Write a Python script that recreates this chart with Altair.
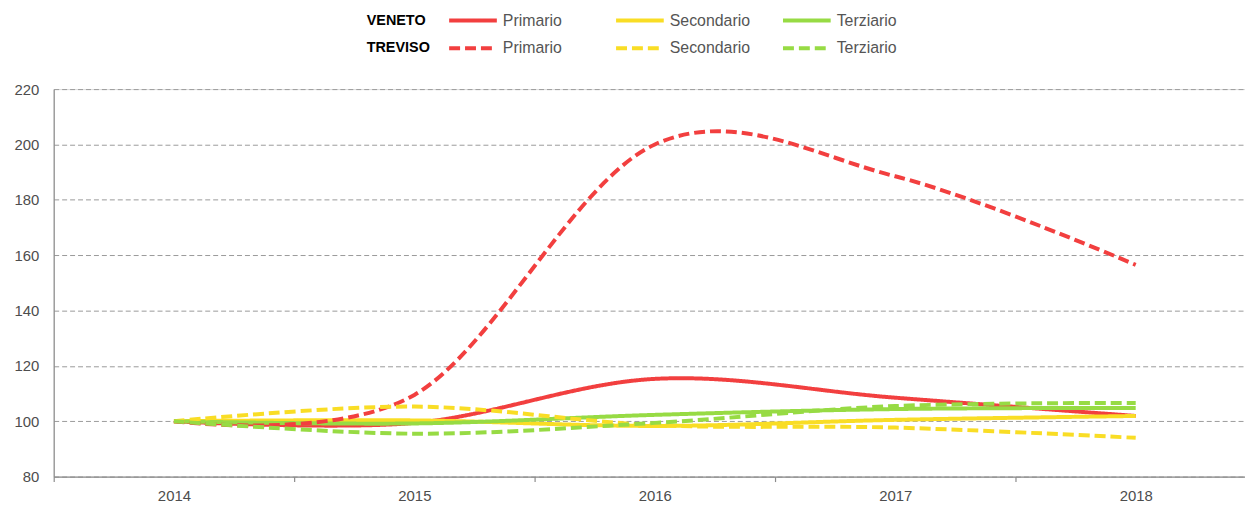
import altair as alt
import pandas as pd

# ---------------- data ----------------
years = [2014, 2015, 2016, 2017, 2018]
sectors = ["Primario", "Secondario", "Terziario"]
regions = ["VENETO", "TREVISO"]

veneto_primario = [100, 99.4, 115.3, 108.5, 101.9]
veneto_secondario = [100, 100.3, 98.3, 100.5, 101.9]
veneto_terziario = [100, 99.2, 102.3, 104.4, 104.8]
treviso_primario = [100, 109.5, 200.0, 188.5, 156.5]
treviso_secondario = [100, 105.3, 98.6, 97.7, 94.0]
treviso_terziario = [100, 95.5, 99.4, 105.5, 106.6]

y_ticks = [80, 100, 120, 140, 160, 180, 200, 220]

series = {
    ("VENETO", "Primario"): veneto_primario,
    ("VENETO", "Secondario"): veneto_secondario,
    ("VENETO", "Terziario"): veneto_terziario,
    ("TREVISO", "Primario"): treviso_primario,
    ("TREVISO", "Secondario"): treviso_secondario,
    ("TREVISO", "Terziario"): treviso_terziario,
}

sector_colors = {"Primario": "#F23F3F", "Secondario": "#F9DD25", "Terziario": "#97DB44"}
region_dash = {"VENETO": [1, 0], "TREVISO": [11, 5]}

rows = []
for (reg, sec), vals in series.items():
    for yr, v in zip(years, vals):
        rows.append({"year": yr, "value": v, "region": reg, "sector": sec})
df = pd.DataFrame(rows)

# ---------------- geometry ----------------
STEP = 242          # pixels per year
W = 1199            # plot width
H = 390             # plot height
x_domain = [2013.5, 2013.5 + W / STEP]
FONT = "Liberation Sans"

x_scale = alt.Scale(domain=x_domain, nice=False, zero=False)
y_scale = alt.Scale(domain=[80, 220], nice=False, zero=False)

x_axis_values = []
for yr in years:
    x_axis_values.append(yr - 0.5)
    x_axis_values.append(yr)

x_axis = alt.Axis(
    values=x_axis_values,
    title=None,
    grid=False,
    domainColor="#8c8c8c",
    domainWidth=1.2,
    tickColor="#8c8c8c",
    tickSize=5,
    tickWidth=1.2,
    tickOpacity={"condition": {"test": "datum.value % 1 === 0", "value": 0}, "value": 1},
    labelExpr="datum.value % 1 === 0 ? '' + datum.value : ''",
    labelOverlap=False,
    labelFont=FONT,
    labelFontSize=15,
    labelColor="#4d4d4d",
    labelPadding=7,
)
y_axis = alt.Axis(
    values=y_ticks,
    title=None,
    grid=True,
    gridDash=[5, 3],
    gridColor="#9a9a9a",
    gridWidth=1,
    domainColor="#8c8c8c",
    domainWidth=1.2,
    ticks=False,
    labelFont=FONT,
    labelFontSize=15,
    labelColor="#4d4d4d",
    labelPadding=15,
)

base = alt.Chart(df)
layers = []
for reg in regions:
    for sec in sectors:
        layer = (
            base.transform_filter(
                (alt.datum.region == reg) & (alt.datum.sector == sec)
            )
            .mark_line(
                interpolate="cardinal",
                strokeWidth=4,
                color=sector_colors[sec],
                strokeDash=region_dash[reg],
                clip=True,
            )
            .encode(
                x=alt.X("year:Q", scale=x_scale, axis=x_axis),
                y=alt.Y("value:Q", scale=y_scale, axis=y_axis),
            )
        )
        layers.append(layer)

# ---------------- custom legend ----------------
one = pd.DataFrame({"k": [0]})
row_y = {"VENETO": -69, "TREVISO": -41}
label_x = 315
sample_x = {"Primario": 398, "Secondario": 566, "Terziario": 734}
sample_len = 48

for reg in regions:
    layers.append(
        alt.Chart(one)
        .mark_text(
            text=reg, font=FONT, fontSize=14.5, fontWeight="bold", color="#000000",
            align="left", baseline="middle",
        )
        .encode(x=alt.value(label_x), y=alt.value(row_y[reg]))
    )
    for sec in sectors:
        layers.append(
            alt.Chart(one)
            .mark_rule(
                color=sector_colors[sec], strokeWidth=4, strokeDash=region_dash[reg]
            )
            .encode(
                x=alt.value(sample_x[sec]),
                x2=alt.value(sample_x[sec] + sample_len),
                y=alt.value(row_y[reg]),
            )
        )
        layers.append(
            alt.Chart(one)
            .mark_text(
                text=sec, font=FONT, fontSize=16, color="#555555",
                align="left", baseline="middle",
            )
            .encode(
                x=alt.value(sample_x[sec] + sample_len + 6), y=alt.value(row_y[reg])
            )
        )

chart = (
    alt.layer(*layers)
    .properties(
        width=W,
        height=H,
        autosize=alt.AutoSizeParams(type="none"),
        padding={"left": 46, "top": 80, "right": 0, "bottom": 30},
    )
    .configure_view(strokeWidth=0)
    .configure(background="white")
)

chart.save("out.html", embed_options={"renderer": "svg", "actions": False})
